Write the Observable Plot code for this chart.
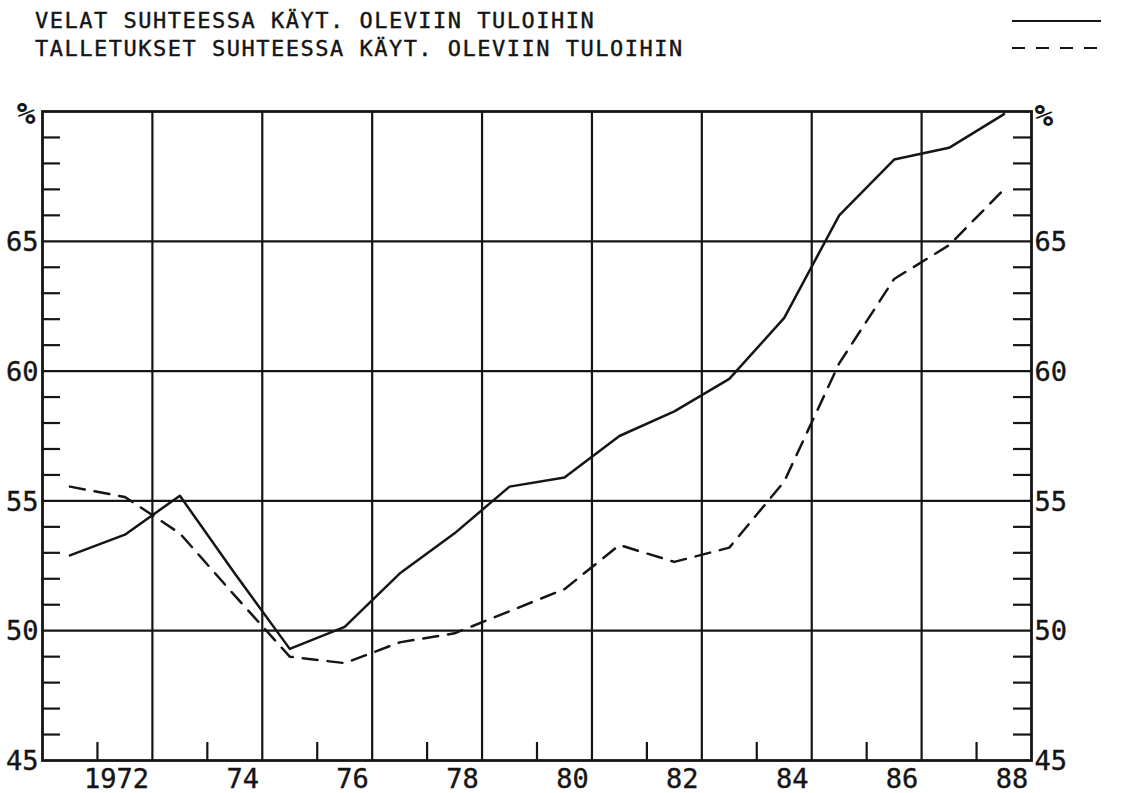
<!DOCTYPE html>
<html>
<head>
<meta charset="utf-8">
<script src="https://cdn.jsdelivr.net/npm/d3@7"></script>
<script src="https://cdn.jsdelivr.net/npm/@observablehq/plot@0.6"></script>
<style>
  body { margin: 0; background: #fff; }
  #wrap { position: relative; width: 1121px; height: 793px; background: #fff; }
  #legend { position: absolute; left: 0; top: 0; width: 1121px; height: 70px; pointer-events: none; }
</style>
</head>
<body>
<div id="wrap">
  <div id="chart"></div>
  <svg id="legend" width="1121" height="70"></svg>
</div>
<script>
// ---- data ----
const years = [1971, 1972, 1973, 1974, 1975, 1976, 1977, 1978, 1979, 1980, 1981, 1982, 1983, 1984, 1985, 1986, 1987, 1988];
const velat = [52.9, 53.7, 55.2, 52.2, 49.3, 50.15, 52.2, 53.75, 55.55, 55.9, 57.5, 58.45, 59.7, 62.05, 66.0, 68.15, 68.6, 69.9];
const talletukset = [55.55, 55.15, 53.75, 51.35, 49.0, 48.75, 49.55, 49.9, 50.75, 51.6, 53.3, 52.65, 53.2, 55.75, 60.3, 63.55, 64.85, 67.0];
const seriesNames = ["VELAT SUHTEESSA KÄYT. OLEVIIN TULOIHIN", "TALLETUKSET SUHTEESSA KÄYT. OLEVIIN TULOIHIN"];
const xTickYears = [1972, 1974, 1976, 1978, 1980, 1982, 1984, 1986, 1988];
const xTickLabels = ["1972", "74", "76", "78", "80", "82", "84", "86", "88"];
const xGridYears = [1973, 1975, 1977, 1979, 1981, 1983, 1985, 1987];
const yLabelValues = [45, 50, 55, 60, 65];
const yGridValues = [50, 55, 60, 65];
const yMinorValues = [46, 47, 48, 49, 51, 52, 53, 54, 56, 57, 58, 59, 61, 62, 63, 64, 66, 67, 68, 69];
const unitLabel = "%";

// ---- layout / style ----
const W = 1121, H = 793;
const mL = 42, mR = 90, mT = 111, mB = 33;
const innerW = W - mL - mR, innerH = H - mT - mB;
const ink = "#151515";
const font = "'DejaVu Sans Mono', 'Liberation Mono', monospace";
const tick = 18;

const velatRows = years.map((y, i) => ({t: y + 0.5, v: velat[i]}));
const tallRows = years.map((y, i) => ({t: y + 0.5, v: talletukset[i]}));

const chart = Plot.plot({
  width: W, height: H,
  marginLeft: mL, marginRight: mR, marginTop: mT, marginBottom: mB,
  x: {domain: [1971, 1989], axis: null},
  y: {domain: [45, 70], axis: null},
  style: {fontFamily: font, background: "#fff", color: ink},
  marks: [
    Plot.ruleY(yGridValues, {stroke: ink, strokeWidth: 2.2}),
    Plot.ruleX(xGridYears, {stroke: ink, strokeWidth: 2.2}),
    Plot.ruleY(yMinorValues, {stroke: ink, strokeWidth: 2.2, insetRight: innerW - tick}),
    Plot.ruleY(yMinorValues, {stroke: ink, strokeWidth: 2.2, insetLeft: innerW - tick}),
    Plot.ruleX(xTickYears, {stroke: ink, strokeWidth: 2.2, insetTop: innerH - tick}),
    Plot.frame({stroke: ink, strokeWidth: 2.8}),
    Plot.line(velatRows, {x: "t", y: "v", stroke: ink, strokeWidth: 2.5}),
    Plot.line(tallRows, {x: "t", y: "v", stroke: ink, strokeWidth: 2.5, strokeDasharray: "15,10"}),
    Plot.text(yLabelValues, {x: 1971, y: d => d, text: d => String(d), textAnchor: "end", dx: -4, dy: 1, fontSize: 27, fill: ink, stroke: ink, strokeWidth: 0.4}),
    Plot.text(yLabelValues, {x: 1989, y: d => d, text: d => String(d), textAnchor: "start", dx: 3, dy: 1, fontSize: 27, fill: ink, stroke: ink, strokeWidth: 0.4}),
    Plot.text([unitLabel], {x: 1971, y: 70, text: d => d, textAnchor: "end", dx: -7, dy: 3, fontSize: 31, fontWeight: "bold", fill: ink}),
    Plot.text([unitLabel], {x: 1989, y: 70, text: d => d, textAnchor: "start", dx: 3, dy: 5, fontSize: 31, fontWeight: "bold", fill: ink}),
    Plot.text(xTickYears, {x: d => d + 0.94, y: 45, text: (d, i) => xTickLabels[i], textAnchor: "end", lineAnchor: "top", dy: 8, fontSize: 27, fill: ink, stroke: ink, strokeWidth: 0.4})
  ]
});
document.getElementById("chart").appendChild(chart);

// ---- legend (above the plot area) ----
const lg = d3.select("#legend");
const legendRows = [
  {name: seriesNames[0], dash: null, baseline: 28, ly: 21},
  {name: seriesNames[1], dash: "13,11", baseline: 56, ly: 48}
];
legendRows.forEach(r => {
  lg.append("text")
    .attr("x", 35).attr("y", r.baseline)
    .attr("font-family", font).attr("font-size", 22)
    .attr("letter-spacing", "1.5px")
    .attr("fill", ink).attr("stroke", ink).attr("stroke-width", 0.4)
    .text(r.name);
  lg.append("line")
    .attr("x1", 1012).attr("x2", 1101)
    .attr("y1", r.ly).attr("y2", r.ly)
    .attr("stroke", ink).attr("stroke-width", 2)
    .attr("stroke-dasharray", r.dash);
});
</script>
</body>
</html>
